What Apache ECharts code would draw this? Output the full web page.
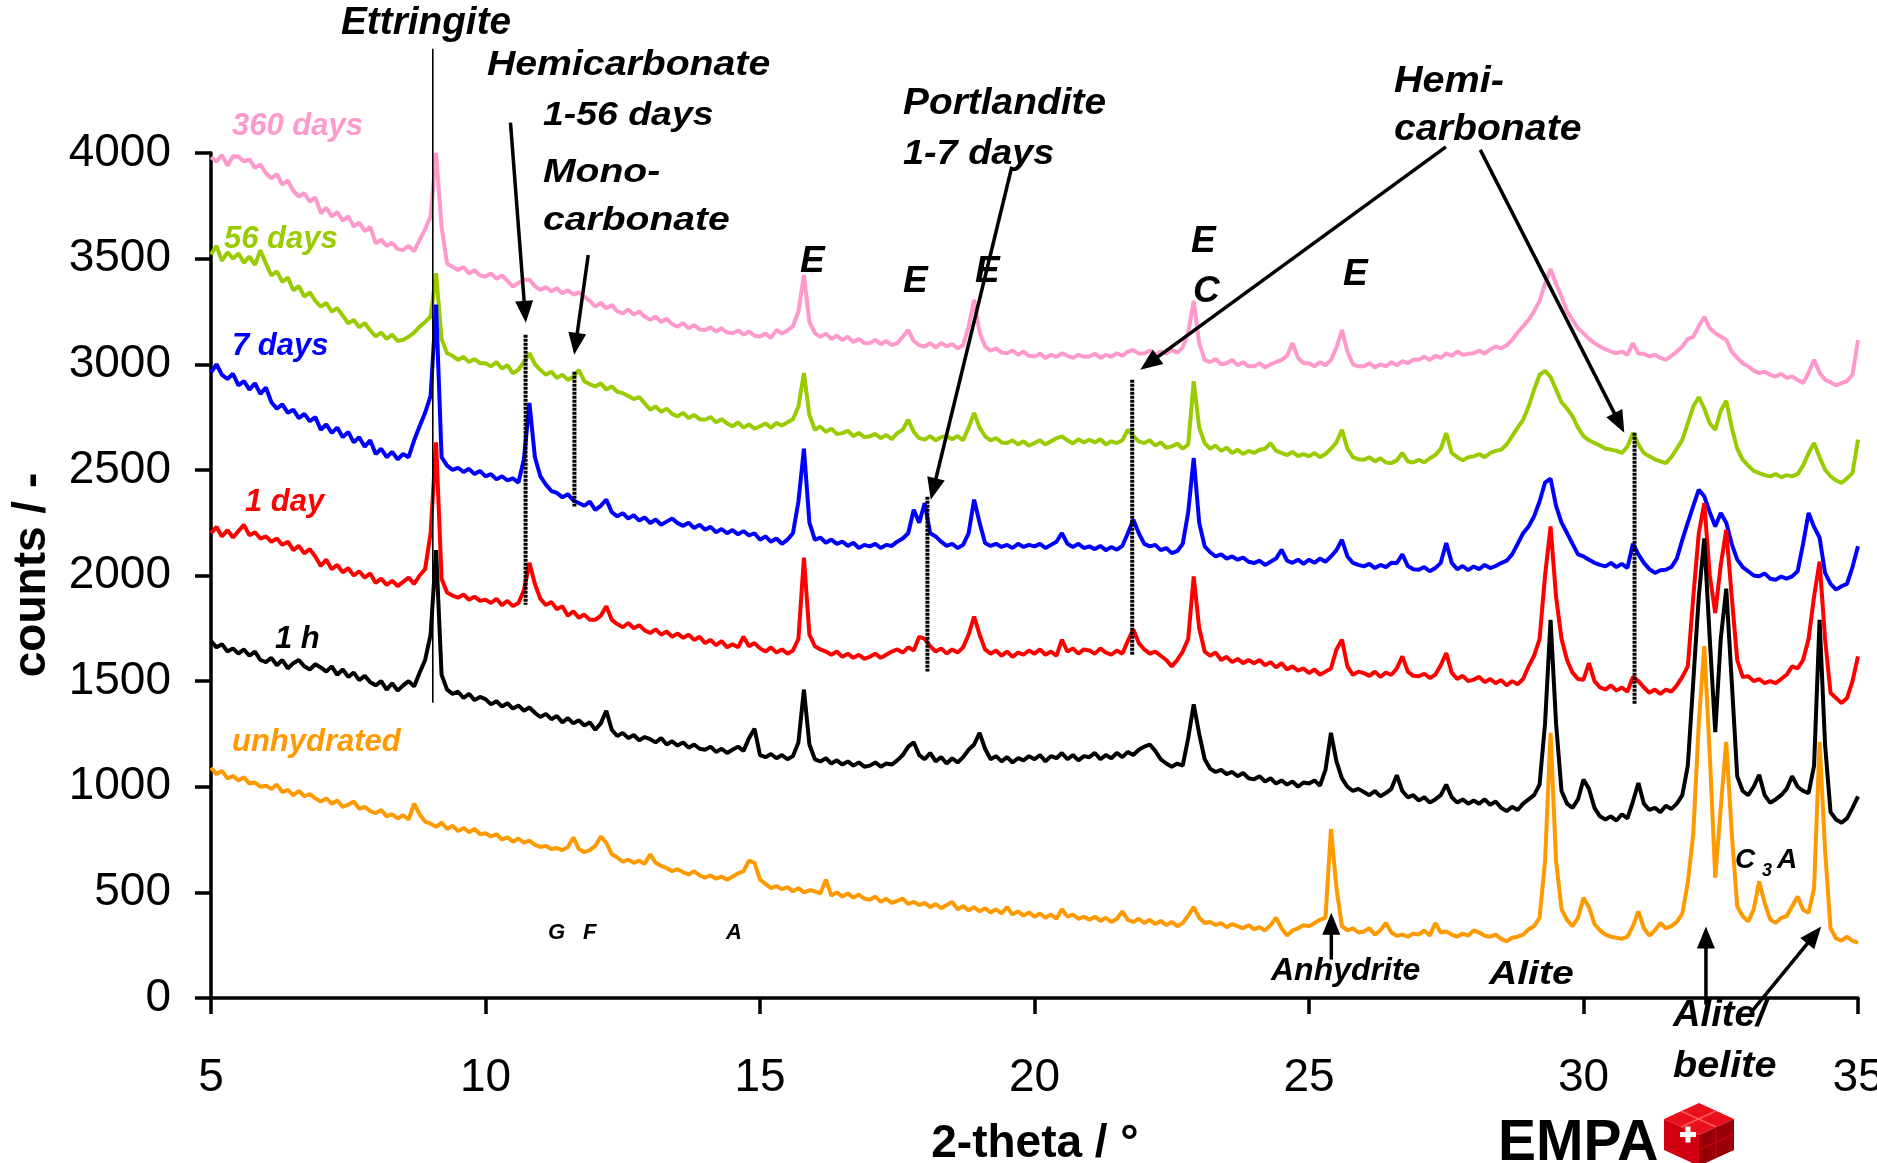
<!DOCTYPE html>
<html>
<head>
<meta charset="utf-8">
<script src="https://cdn.jsdelivr.net/npm/echarts/dist/echarts.min.js"></script>
<style>
  html, body { margin: 0; padding: 0; background: #fff; overflow: hidden; }
  #chart { width: 1877px; height: 1163px; }
</style>
</head>
<body>
<div id="chart"></div>
<script>
// XRD patterns of a hydrating cement paste, 2-theta scan from 5° to 35° in 0.1° steps.
const FONT = '"Liberation Sans", Arial, Helvetica, sans-serif';

const thetaStart = 5.0;
const thetaStep = 0.1;
const xTicks = [5, 10, 15, 20, 25, 30, 35];
const yTicks = [0, 500, 1000, 1500, 2000, 2500, 3000, 3500, 4000];

const seriesNames = ['360 days', '56 days', '7 days', '1 day', '1 h', 'unhydrated'];
const seriesColors = ['#FF99CC', '#99CC00', '#0000FF', '#FF0000', '#000000', '#FF9900'];

// counts, one value per 0.1° (rows = one degree: x.0 .. x.9)
const days360 = [
  3980, 3960, 3990, 3940, 3985, 3983, 3960, 3970, 3930, 3945,
  3904, 3880, 3900, 3850, 3870, 3820, 3794, 3810, 3770, 3790,
  3715, 3740, 3700, 3720, 3680, 3700, 3652, 3670, 3630, 3650,
  3573, 3590, 3560, 3575, 3545, 3541, 3560, 3535, 3589, 3640,
  3699, 4000, 3650, 3477, 3460, 3446, 3460, 3430, 3445, 3420,
  3415, 3430, 3405, 3420, 3395, 3368, 3385, 3400, 3400, 3370,
  3352, 3365, 3345, 3360, 3336, 3350, 3330, 3340, 3320, 3300,
  3273, 3290, 3265, 3280, 3250, 3241, 3260, 3235, 3250, 3225,
  3210, 3225, 3200, 3215, 3190, 3178, 3195, 3170, 3185, 3165,
  3162, 3175, 3155, 3170, 3150, 3147, 3160, 3140, 3155, 3135,
  3131, 3145, 3125, 3162, 3145, 3160, 3180, 3250, 3422, 3200,
  3147, 3130, 3145, 3120, 3135, 3115, 3130, 3105, 3120, 3100,
  3100, 3115, 3095, 3110, 3090, 3100, 3130, 3162, 3110, 3090,
  3084, 3100, 3080, 3100, 3085, 3095, 3075, 3090, 3180, 3305,
  3150, 3084, 3065, 3075, 3055, 3052, 3065, 3045, 3060, 3040,
  3037, 3050, 3030, 3045, 3035, 3052, 3040, 3030, 3045, 3035,
  3037, 3050, 3030, 3045, 3035, 3052, 3040, 3060, 3068, 3050,
  3052, 3065, 3045, 3060, 3050, 3068, 3055, 3080, 3150, 3300,
  3100, 3021, 3010, 3025, 3000, 3005, 3020, 2995, 3010, 2990,
  2990, 3005, 2985, 3000, 3010, 3021, 3040, 3100, 3030, 3005,
  3005, 2990, 3010, 2995, 3020, 3080, 3162, 3060, 3000, 2990,
  2990, 3005, 2985, 3000, 2990, 3010, 2995, 3015, 3005, 3021,
  3021, 3035, 3020, 3040, 3030, 3052, 3040, 3060, 3045, 3050,
  3052, 3065, 3050, 3070, 3084, 3075, 3090, 3115, 3150, 3180,
  3210, 3250, 3300, 3380, 3451, 3380, 3320, 3250, 3210, 3170,
  3147, 3120, 3100, 3084, 3070, 3060, 3052, 3060, 3045, 3100,
  3050, 3050, 3037, 3045, 3030, 3021, 3040, 3060, 3084, 3120,
  3130, 3180, 3224, 3170, 3147, 3130, 3115, 3060, 3030, 3005,
  2990, 2970, 2958, 2965, 2950, 2942, 2955, 2935, 2942, 2925,
  2911, 2960, 3021, 2960, 2926, 2915, 2900, 2911, 2920, 2950,
  3115
];

const days56 = [
  3520, 3560, 3490, 3530, 3500, 3524, 3480, 3510, 3470, 3540,
  3477, 3420, 3440, 3390, 3410, 3350, 3370, 3320, 3340, 3300,
  3273, 3290, 3250, 3265, 3230, 3194, 3210, 3175, 3195, 3160,
  3132, 3150, 3120, 3140, 3110, 3116, 3130, 3150, 3178, 3200,
  3226, 3431, 3120, 3052, 3040, 3020, 3035, 3010, 3025, 3005,
  3005, 2990, 3010, 2980, 2995, 2957, 2975, 3010, 3052, 3000,
  2973, 2950, 2965, 2935, 2950, 2926, 2940, 2973, 2920, 2905,
  2895, 2910, 2880, 2895, 2870, 2863, 2850, 2835, 2845, 2815,
  2785, 2800, 2775, 2790, 2765, 2753, 2770, 2745, 2760, 2740,
  2737, 2750, 2725, 2740, 2720, 2706, 2725, 2700, 2715, 2695,
  2706, 2720, 2700, 2722, 2710, 2725, 2740, 2800, 2958, 2760,
  2690, 2705, 2680, 2695, 2670, 2674, 2685, 2660, 2675, 2655,
  2659, 2670, 2650, 2665, 2645, 2674, 2690, 2737, 2680, 2650,
  2643, 2660, 2640, 2655, 2659, 2645, 2660, 2640, 2700, 2769,
  2700, 2659, 2640, 2650, 2630, 2627, 2640, 2620, 2635, 2615,
  2627, 2640, 2620, 2635, 2650, 2659, 2640, 2625, 2645, 2630,
  2643, 2630, 2645, 2620, 2635, 2627, 2640, 2690, 2660, 2635,
  2627, 2640, 2615, 2630, 2605, 2611, 2625, 2600, 2620, 2920,
  2700, 2627, 2600, 2615, 2590, 2605, 2580, 2595, 2575, 2590,
  2580, 2595, 2600, 2627, 2590, 2580, 2570, 2585, 2565, 2575,
  2564, 2580, 2560, 2575, 2600, 2630, 2690, 2600, 2560, 2550,
  2548, 2560, 2540, 2555, 2535, 2532, 2545, 2580, 2540, 2535,
  2548, 2535, 2555, 2570, 2600, 2674, 2580, 2560, 2545, 2560,
  2564, 2575, 2560, 2580, 2590, 2596, 2620, 2660, 2700, 2737,
  2800, 2880, 2950, 2969, 2940, 2880, 2820, 2790, 2753, 2700,
  2660, 2640, 2627, 2615, 2600, 2596, 2590, 2580, 2610, 2674,
  2620, 2580, 2564, 2550, 2540, 2532, 2560, 2600, 2643, 2720,
  2800, 2844, 2790, 2720, 2690, 2780, 2827, 2700, 2600, 2548,
  2520, 2495, 2485, 2475, 2469, 2480, 2465, 2475, 2469, 2480,
  2520, 2580, 2627, 2560, 2501, 2470, 2450, 2438, 2460, 2485,
  2643
];

const days7 = [
  2960, 3000, 2950, 2930, 2955, 2900, 2920, 2880, 2910, 2860,
  2890, 2820, 2790, 2810, 2770, 2785, 2745, 2765, 2730, 2750,
  2690, 2715, 2675, 2700, 2655, 2680, 2630, 2655, 2610, 2640,
  2575, 2600, 2560, 2585, 2550, 2575, 2560, 2640, 2706, 2770,
  2850, 3282, 2560, 2520, 2500, 2510, 2490, 2505, 2480, 2495,
  2469, 2480, 2455, 2470, 2450, 2460, 2440, 2550, 2817, 2560,
  2469, 2430, 2400, 2391, 2370, 2385, 2355, 2343, 2330, 2350,
  2311, 2330, 2359, 2300, 2280, 2295, 2270, 2285, 2260, 2275,
  2248, 2265, 2240, 2255, 2270, 2248, 2235, 2250, 2225, 2240,
  2217, 2230, 2205, 2220, 2200, 2215, 2195, 2210, 2190, 2200,
  2169, 2185, 2160, 2175, 2150, 2170, 2200, 2350, 2600, 2250,
  2169, 2180, 2155, 2170, 2150, 2160, 2140, 2155, 2130, 2145,
  2138, 2150, 2130, 2145, 2140, 2160, 2175, 2200, 2311, 2250,
  2343, 2200, 2185, 2160, 2140, 2150, 2130, 2145, 2200, 2359,
  2250, 2154, 2140, 2150, 2135, 2145, 2130, 2150, 2135, 2145,
  2138, 2150, 2130, 2145, 2160, 2201, 2150, 2135, 2150, 2130,
  2138, 2125, 2140, 2120, 2135, 2122, 2140, 2200, 2264, 2200,
  2150, 2138, 2145, 2120, 2130, 2106, 2115, 2150, 2300, 2556,
  2250, 2138, 2110, 2090, 2100, 2080, 2090, 2075, 2085, 2065,
  2059, 2070, 2050, 2065, 2080, 2122, 2070, 2060, 2075, 2055,
  2075, 2060, 2080, 2065, 2090, 2120, 2169, 2090, 2060, 2050,
  2043, 2055, 2035, 2050, 2040, 2060, 2059, 2100, 2045, 2030,
  2027, 2040, 2020, 2035, 2060, 2154, 2060, 2030, 2045, 2025,
  2043, 2030, 2050, 2035, 2045, 2059, 2070, 2100, 2150, 2200,
  2232, 2280, 2350, 2440, 2459, 2330, 2250, 2201, 2150, 2100,
  2090, 2075, 2060, 2050, 2043, 2060, 2040, 2055, 2035, 2150,
  2100, 2060, 2030, 2012, 2025, 2027, 2040, 2080, 2169, 2250,
  2330, 2406, 2375, 2300, 2232, 2296, 2250, 2150, 2075, 2040,
  2020, 2000, 1996, 2010, 1985, 1980, 1995, 1985, 1996, 2020,
  2150, 2296, 2230, 2180, 2012, 1960, 1933, 1949, 1960, 2040,
  2138
];

const day1 = [
  2200, 2230, 2185, 2215, 2180, 2210, 2240, 2190, 2205, 2175,
  2185, 2160, 2175, 2145, 2160, 2120, 2140, 2105, 2125, 2090,
  2045, 2075, 2030, 2050, 2015, 2035, 2000, 2020, 1990, 2010,
  1965, 1985, 1955, 1975, 1950, 1970, 1990, 1960, 2000, 2030,
  2200, 2630, 1985, 1920, 1905, 1895, 1910, 1885, 1900, 1880,
  1885, 1870, 1890, 1860, 1880, 1855, 1870, 1930, 2060, 1960,
  1890, 1860, 1875, 1840, 1855, 1810, 1830, 1800, 1815, 1790,
  1790, 1810, 1855, 1790, 1770, 1755, 1775, 1750, 1765, 1740,
  1728, 1745, 1720, 1735, 1710, 1725, 1705, 1720, 1695, 1710,
  1680, 1695, 1670, 1690, 1660, 1675, 1660, 1710, 1665, 1680,
  1655, 1640, 1660, 1635, 1650, 1630, 1645, 1700, 2085, 1720,
  1665, 1650, 1640, 1625, 1640, 1615, 1630, 1610, 1625, 1605,
  1615, 1630, 1610, 1625, 1640, 1650, 1635, 1660, 1645, 1710,
  1700, 1665, 1640, 1655, 1630, 1650, 1635, 1660, 1720, 1806,
  1720, 1650, 1630, 1645, 1620, 1640, 1615, 1635, 1625, 1645,
  1630, 1650, 1625, 1640, 1620, 1696, 1640, 1655, 1630, 1650,
  1645, 1630, 1655, 1635, 1625, 1645, 1630, 1690, 1744, 1680,
  1650, 1630, 1640, 1620, 1600, 1570, 1600, 1640, 1700, 1996,
  1750, 1640, 1620, 1635, 1600, 1615, 1590, 1605, 1585, 1600,
  1585, 1600, 1575, 1590, 1565, 1585, 1555, 1570, 1550, 1560,
  1538, 1555, 1530, 1545, 1560, 1650, 1696, 1570, 1530, 1545,
  1538, 1525, 1545, 1520, 1540, 1530, 1560, 1617, 1545, 1525,
  1523, 1535, 1515, 1530, 1575, 1633, 1540, 1510, 1525, 1500,
  1507, 1520, 1495, 1510, 1490, 1505, 1480, 1500, 1485, 1510,
  1570, 1620, 1700, 2000, 2232, 1900, 1700, 1600, 1540, 1510,
  1507, 1585, 1500, 1470, 1460, 1480, 1455, 1470, 1450, 1520,
  1500, 1470, 1445, 1460, 1440, 1460, 1450, 1480, 1520, 1570,
  1900, 2200, 2343, 2000, 1822, 2050, 2216, 1900, 1600, 1520,
  1523, 1500, 1510, 1490, 1500, 1491, 1510, 1530, 1570, 1560,
  1600, 1700, 1900, 2066, 1700, 1444, 1420, 1396, 1420, 1500,
  1617
];

const hour1 = [
  1690, 1660, 1675, 1640, 1655, 1630, 1650, 1620, 1640, 1600,
  1590, 1610, 1575, 1600, 1560, 1585, 1600, 1570, 1555, 1580,
  1565, 1545, 1570, 1530, 1555, 1520, 1540, 1505, 1525, 1495,
  1480, 1500, 1460, 1490, 1455, 1480, 1500, 1475, 1540, 1600,
  1720, 2120, 1530, 1460, 1440, 1450, 1420, 1440, 1410, 1425,
  1415, 1390, 1405, 1380, 1395, 1370, 1385, 1360, 1375, 1350,
  1330, 1345, 1320, 1335, 1305, 1325, 1300, 1315, 1290, 1305,
  1270, 1300, 1360, 1270, 1240, 1255, 1230, 1245, 1220, 1235,
  1225, 1210, 1230, 1200, 1215, 1195, 1210, 1185, 1200, 1180,
  1175, 1190, 1165, 1180, 1160, 1175, 1190, 1170, 1230, 1275,
  1150, 1140, 1155, 1135, 1150, 1130, 1145, 1210, 1460, 1200,
  1130, 1120, 1135, 1110, 1125, 1105, 1120, 1100, 1115, 1095,
  1100, 1115, 1095, 1110, 1105, 1125, 1150, 1190, 1210, 1150,
  1130, 1160, 1120, 1140, 1110, 1135, 1115, 1140, 1175, 1200,
  1255, 1180, 1130, 1145, 1120, 1140, 1115, 1135, 1125, 1145,
  1130, 1150, 1120, 1145, 1135, 1160, 1130, 1150, 1125, 1145,
  1140, 1160, 1130, 1150, 1135, 1160, 1140, 1165, 1150, 1175,
  1190, 1200, 1170, 1130, 1110, 1095, 1110, 1100, 1230, 1390,
  1250, 1130, 1085, 1070, 1080, 1060, 1070, 1050, 1065, 1040,
  1035, 1050, 1025, 1040, 1015, 1030, 1010, 1025, 1000, 1020,
  1015, 1030, 1005, 1080, 1255, 1120, 1040, 1000, 980, 990,
  975, 960, 980, 955, 970, 990, 1055, 980, 950, 960,
  935, 950, 925, 940, 960, 1010, 950, 925, 940, 920,
  935, 920, 940, 915, 930, 900, 885, 905, 890, 920,
  940, 960, 1010, 1300, 1790, 1300, 980, 920, 900, 940,
  1034, 990, 900, 860, 845, 860, 840, 870, 850, 930,
  1018, 920, 890, 900, 880, 910, 895, 920, 960, 1100,
  1500, 1900, 2176, 1700, 1258, 1700, 1938, 1500, 1050, 980,
  960, 1000, 1057, 960, 924, 940, 960, 990, 1050, 1000,
  980, 970, 1100, 1790, 1200, 880, 845, 830, 850, 900,
  954
];

const unhydrated = [
  1090, 1060, 1075, 1040, 1050, 1030, 1045, 1015, 1020, 1000,
  1005, 990, 1010, 975, 985, 960, 980, 955, 965, 945,
  930, 945, 920, 935, 905, 915, 930, 895, 905, 885,
  875, 890, 860, 870, 850, 865, 845, 920, 870, 835,
  825, 810, 830, 800, 815, 790, 805, 785, 800, 775,
  780, 765, 775, 750, 760, 740, 755, 735, 745, 725,
  715, 720, 705, 710, 700, 715, 760, 705, 690, 700,
  720, 765, 735, 680, 665, 645, 655, 640, 650, 635,
  680, 640, 625, 615, 600, 610, 595, 585, 600, 580,
  570, 580, 565, 575, 560, 575, 590, 600, 650, 640,
  560, 540, 520, 530, 515, 525, 505, 520, 500, 510,
  505, 495, 560, 485, 500, 480, 495, 475, 490, 470,
  465, 480, 455, 470, 450, 460, 470, 445, 455, 440,
  450, 430, 445, 425, 440, 455, 420, 435, 415, 430,
  410, 425, 405, 420, 400, 430, 395, 410, 390, 405,
  385, 400, 380, 395, 375, 420, 385, 395, 375, 385,
  370, 385, 365, 380, 360, 375, 410, 370, 360, 375,
  355, 370, 350, 365, 345, 360, 340, 355, 390, 430,
  380, 355, 360, 345, 355, 335, 350, 340, 330, 345,
  325, 335, 320, 345, 380, 330, 295, 320, 330, 345,
  340, 355, 370, 380, 800, 520, 340, 320, 330, 310,
  315, 330, 300, 320, 355, 310, 295, 300, 290, 305,
  300, 320, 295, 355, 310, 315, 300, 290, 305, 295,
  320, 310, 295, 290, 300, 280, 268, 285, 290, 300,
  325, 340, 380, 650, 1255, 650, 420, 370, 340, 380,
  475, 430, 350, 320, 300, 290, 285, 280, 290, 340,
  410, 330, 295, 320, 355, 330, 340, 360, 400, 545,
  780, 1300, 1666, 1150, 570, 900, 1212, 780, 434, 387,
  363, 418, 552, 450, 371, 356, 379, 387, 434, 481,
  418, 403, 520, 1212, 700, 330, 282, 272, 290, 270,
  262
];

const patterns = [days360, days56, days7, day1, hour1, unhydrated];

// Phase markers: vertical lines at reflection positions [2-theta, top count, bottom count]
const ettringiteLine = [9.04, 4493, 1398];
const phaseMarkers = [
  [10.73, 3140, 1862],
  [11.62, 2965, 2327],
  [18.05, 2373, 1545],
  [21.78, 2927, 1625],
  [30.93, 2676, 1388]
];

// Leader arrows in data space: [tail 2-theta, tail count, tip 2-theta, tip count]
const leaderArrows = [
  [10.455, 4144, 10.734, 3196],
  [11.871, 3517, 11.616, 3045],
  [19.587, 3935, 18.111, 2359],
  [27.494, 4029, 21.927, 2974],
  [28.12, 4015, 30.743, 2676],
  [25.406, 182, 25.406, 404],
  [32.23, -31, 32.23, 338],
  [33.048, -69, 34.33, 338]
];

function toPairs(values) {
  return values.map((v, i) => [+(thetaStart + i * thetaStep).toFixed(1), v]);
}

const chart = echarts.init(document.getElementById('chart'), null, { renderer: 'canvas' });

const axisCommon = {
  axisLine: { show: true, onZero: false, lineStyle: { color: '#000', width: 3.5 } },
  axisTick: { show: true, inside: false, length: 16, lineStyle: { color: '#000', width: 3.5 } },
  splitLine: { show: false }
};

chart.setOption({
  animation: false,
  backgroundColor: '#ffffff',
  grid: { left: 211, right: 19, top: 153, bottom: 165, containLabel: false, outerBoundsMode: 'none' },
  xAxis: Object.assign({
    type: 'value',
    min: xTicks[0],
    max: xTicks[xTicks.length - 1],
    interval: xTicks[1] - xTicks[0],
    axisLabel: { color: '#000', fontSize: 46, fontFamily: FONT, margin: 57, showMinLabel: true, showMaxLabel: true,
      formatter: v => String(v) }
  }, axisCommon),
  yAxis: Object.assign({
    type: 'value',
    min: yTicks[0],
    max: yTicks[yTicks.length - 1],
    interval: yTicks[1] - yTicks[0],
    axisLabel: { color: '#000', fontSize: 46, fontFamily: FONT, margin: 40, formatter: v => String(v) }
  }, axisCommon),
  series: patterns.map((arr, k) => ({
    name: seriesNames[k],
    type: 'line',
    data: toPairs(arr),
    showSymbol: false,
    symbol: 'none',
    lineStyle: { color: seriesColors[k], width: 4 },
    itemStyle: { color: seriesColors[k] },
    z: 2 + k
  }))
});

const toPx = (x, y) => chart.convertToPixel({ gridIndex: 0 }, [x, y]);

function textEl(text, left, baseline, size, opts) {
  opts = opts || {};
  const italic = opts.italic === false ? '' : 'italic ';
  const weight = opts.weight || 'bold';
  return {
    type: 'text',
    x: left,
    y: baseline - 0.35 * size,
    scaleX: opts.sx || 1,
    originX: 0,
    originY: 0,
    rotation: opts.rotation || 0,
    z: 50,
    style: {
      text: text,
      font: italic + weight + ' ' + size + 'px ' + FONT,
      fill: opts.color || '#000',
      textAlign: opts.align || 'left',
      textVerticalAlign: 'middle',
      verticalAlign: 'middle'
    }
  };
}

function arrowEls(a) {
  const tail = toPx(a[0], a[1]);
  const tip = toPx(a[2], a[3]);
  const dx = tip[0] - tail[0], dy = tip[1] - tail[1];
  const d = Math.hypot(dx, dy);
  const ux = dx / d, uy = dy / d;
  const len = 22, half = 9;
  const bx = tip[0] - ux * len, by = tip[1] - uy * len;
  return [
    { type: 'line', z: 40, shape: { x1: tail[0], y1: tail[1], x2: bx + ux * 2, y2: by + uy * 2 },
      style: { stroke: '#000', lineWidth: 3.5 } },
    { type: 'polygon', z: 40, shape: { points: [[tip[0], tip[1]], [bx - uy * half, by + ux * half], [bx + uy * half, by - ux * half]] },
      style: { fill: '#000' } }
  ];
}

function markerEl(m, solid) {
  const p1 = toPx(m[0], m[1]);
  const p2 = toPx(m[0], m[2]);
  return {
    type: 'line', z: 30,
    shape: { x1: p1[0], y1: p1[1], x2: p2[0], y2: p2[1] },
    style: solid ? { stroke: '#000', lineWidth: 1.6 } : { stroke: '#000', lineWidth: 4, lineDash: [3, 1] }
  };
}

const els = [];
els.push(markerEl(ettringiteLine, true));
phaseMarkers.forEach(m => els.push(markerEl(m, false)));
leaderArrows.forEach(a => els.push(...arrowEls(a)));

// series captions
const captionPos = [[232, 137], [224, 250], [232, 357], [245, 513], [275, 650], [232, 753]];
seriesNames.forEach((n, k) => els.push(textEl(n, captionPos[k][0], captionPos[k][1], 31, { color: seriesColors[k] })));

// phase annotations
els.push(textEl('Ettringite', 341, 37, 38, { sx: 1.02 }));
els.push(textEl('Hemicarbonate', 487, 78, 35, { sx: 1.12 }));
els.push(textEl('1-56 days', 543, 128, 34, { sx: 1.1 }));
els.push(textEl('Mono-', 543, 185, 34, { sx: 1.15 }));
els.push(textEl('carbonate', 543, 233, 34, { sx: 1.15 }));
els.push(textEl('Portlandite', 903, 117, 36, { sx: 1.08 }));
els.push(textEl('1-7 days', 903, 167, 35, { sx: 1.08 }));
els.push(textEl('Hemi-', 1394, 95, 36, { sx: 1.1 }));
els.push(textEl('carbonate', 1394, 143, 36, { sx: 1.09 }));
els.push(textEl('E', 800, 275, 37));
els.push(textEl('E', 903, 295, 37));
els.push(textEl('E', 975, 285, 37));
els.push(textEl('E', 1191, 255, 37));
els.push(textEl('C', 1193, 305, 37));
els.push(textEl('E', 1343, 288, 37));
els.push(textEl('G', 548, 941, 22));
els.push(textEl('F', 583, 941, 22));
els.push(textEl('A', 726, 941, 22));
els.push(textEl('Anhydrite', 1271, 982, 32));
els.push(textEl('Alite', 1489, 987, 34, { sx: 1.15 }));
els.push(textEl('Alite/', 1673, 1029, 36, { sx: 1.06 }));
els.push(textEl('belite', 1673, 1080, 36, { sx: 1.1 }));
els.push(textEl('C', 1735, 870, 28));
els.push(textEl('3', 1762, 877, 18));
els.push(textEl('A', 1777, 870, 28));

// axis titles
const yTitle = textEl('counts / -', 0, 0, 46, { italic: false, rotation: Math.PI / 2, align: 'center' });
yTitle.x = 32; yTitle.y = 575;
els.push(yTitle);
els.push(textEl('2-theta / °', 1035, 1160, 46, { italic: false, align: 'center' }));

// EMPA mark
els.push(textEl('EMPA', 1498, 1164, 57, { italic: false }));
els.push({ type: 'polygon', z: 60, shape: { points: [[1664, 1119], [1699, 1103], [1734, 1119], [1699, 1135]] }, style: { fill: '#e8101a' } });
els.push({ type: 'polygon', z: 60, shape: { points: [[1664, 1119], [1699, 1135], [1699, 1166], [1664, 1150]] }, style: { fill: '#d00010' } });
els.push({ type: 'polygon', z: 60, shape: { points: [[1699, 1135], [1734, 1119], [1734, 1150], [1699, 1166]] }, style: { fill: '#980008' } });
els.push({ type: 'line', z: 61, shape: { x1: 1681, y1: 1111, x2: 1716, y2: 1127 }, style: { stroke: '#ff5a5a', lineWidth: 1.5 } });
els.push({ type: 'line', z: 61, shape: { x1: 1716, y1: 1111, x2: 1681, y2: 1127 }, style: { stroke: '#ff5a5a', lineWidth: 1.5 } });
els.push({ type: 'line', z: 61, shape: { x1: 1716, y1: 1127, x2: 1716, y2: 1158 }, style: { stroke: '#c00010', lineWidth: 1.5 } });
els.push({ type: 'line', z: 61, shape: { x1: 1699, y1: 1150, x2: 1734, y2: 1134 }, style: { stroke: '#c00010', lineWidth: 1.5 } });
els.push({ type: 'rect', z: 62, shape: { x: 1680, y: 1132, width: 16, height: 5 }, style: { fill: '#fff' } });
els.push({ type: 'rect', z: 62, shape: { x: 1685.5, y: 1126.5, width: 5, height: 16 }, style: { fill: '#fff' } });

chart.setOption({ graphic: { elements: els } });
</script>
</body>
</html>
